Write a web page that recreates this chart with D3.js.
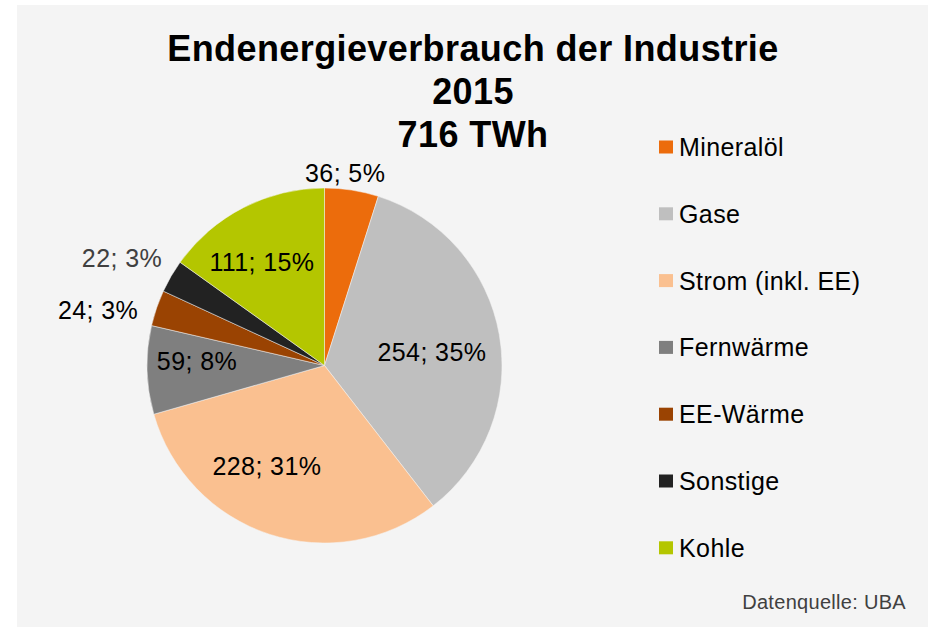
<!DOCTYPE html>
<html><head><meta charset="utf-8">
<script src="https://cdn.jsdelivr.net/npm/d3@7"></script>
<style>
html,body{margin:0;padding:0;background:#fff;}
svg text{font-family:"Liberation Sans",Arial,sans-serif;}
</style></head>
<body>
<svg id="chart" width="930" height="627"></svg>
<script>
const categories = ["Mineralöl","Gase","Strom (inkl. EE)","Fernwärme","EE-Wärme","Sonstige","Kohle"];
const values = [36,254,228,59,24,22,111];
const percentLabels = ["5%","35%","31%","8%","3%","3%","15%"];
const colors = ["#EC6C0C","#BFBFBF","#FAC090","#7F7F7F","#9A4302","#222222","#B4C600"];
const titleLines = ["Endenergieverbrauch der Industrie","2015","716 TWh"];
const sourceText = "Datenquelle: UBA";

// label layout: radius ratio and angle shift (deg) per slice
const labelLayout = [
  {r:1.09, da:-2.7, fill:"#000"},
  {r:0.61, da:2.9, fill:"#000"},
  {r:0.652, da:11.7, fill:"#000"},
  {r:0.719, da:3.4, fill:"#000"},
  {r:1.314, da:-5.1, fill:"#000"},
  {r:1.292, da:-2.2, fill:"#404040"},
  {r:0.682, da:-3.9, fill:"#000"}
];

const svg = d3.select("#chart");
svg.append("rect").attr("x",17).attr("y",5).attr("width",911).attr("height",622).attr("fill","#f4f4f4");

const cx = 324.5, cy = 365.5, R = 177.5;
const data = categories.map((c,i)=>({cat:c, value:values[i], pct:percentLabels[i], color:colors[i], lay:labelLayout[i]}));
const pie = d3.pie().value(d=>d.value).sort(null);
const arcs = pie(data);
const arc = d3.arc().innerRadius(0).outerRadius(R);

const g = svg.append("g").attr("transform",`translate(${cx},${cy})`);
g.selectAll("path").data(arcs).enter().append("path")
  .attr("d",arc).attr("fill",d=>d.data.color)
  .attr("stroke","#f4f4f4").attr("stroke-width",0.5);

g.selectAll("text.lbl").data(arcs).enter().append("text")
  .attr("class","lbl")
  .attr("x",d=>{const a=(d.startAngle+d.endAngle)/2 + d.data.lay.da*Math.PI/180; return Math.sin(a)*R*d.data.lay.r;})
  .attr("y",d=>{const a=(d.startAngle+d.endAngle)/2 + d.data.lay.da*Math.PI/180; return -Math.cos(a)*R*d.data.lay.r;})
  .attr("dy","0.36em")
  .attr("text-anchor","middle")
  .attr("font-size",25).attr("letter-spacing","0.4px")
  .attr("fill",d=>d.data.lay.fill)
  .text(d=>`${d.data.value}; ${d.data.pct}`);

// title
svg.append("g").selectAll("text").data(titleLines).enter().append("text")
  .attr("x",473).attr("y",(d,i)=>61+i*43)
  .attr("text-anchor","middle").attr("font-weight","bold")
  .attr("font-size",36).attr("letter-spacing","0.4px").attr("fill","#000")
  .text(d=>d);

// legend
const lg = svg.append("g").attr("transform","translate(659,147)");
const rows = lg.selectAll("g").data(data).enter().append("g")
  .attr("transform",(d,i)=>`translate(0,${i*66.8})`);
rows.append("rect").attr("x",0).attr("y",-6.5).attr("width",14).attr("height",13).attr("fill",d=>d.color);
rows.append("text").attr("x",20).attr("y",0).attr("dy","0.36em")
  .attr("font-size",25).attr("letter-spacing","0.4px").attr("fill","#000").text(d=>d.cat);

svg.append("text").attr("x",906).attr("y",609).attr("text-anchor","end")
  .attr("font-size",20).attr("letter-spacing","0.3px").attr("fill","#404040").text(sourceText);
</script>
</body></html>
